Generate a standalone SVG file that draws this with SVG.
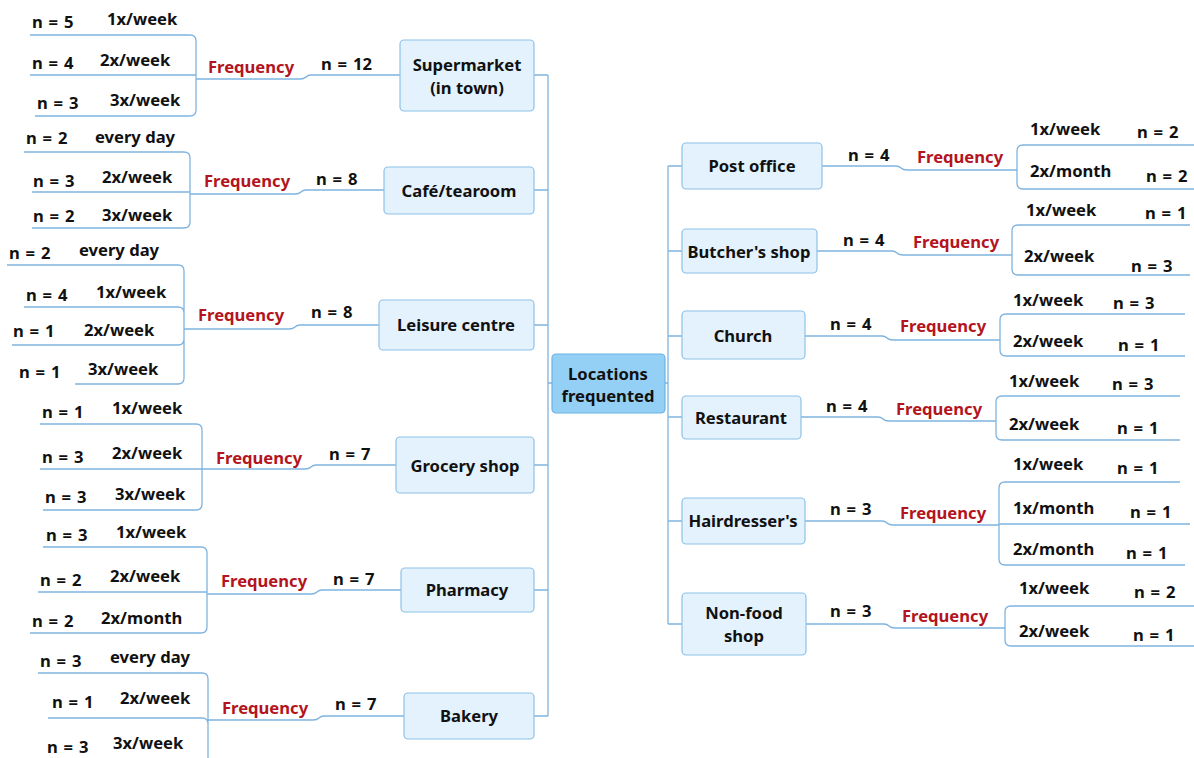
<svg xmlns="http://www.w3.org/2000/svg" width="1194" height="758" viewBox="0 0 1194 758">
<style>
text{font-family:"Noto Sans","Open Sans","DejaVu Sans",sans-serif;font-weight:bold;font-size:16.6px;fill:#111}
.f{fill:#b3141d}
.c{text-anchor:middle;font-size:16.6px}
.n{word-spacing:1.5px}
.box{fill:#e3f2fd;stroke:#8ec2e8;stroke-width:1.2}
.root{fill:#94d0f6;stroke:#6db3e4;stroke-width:1.2}
.ln{fill:none;stroke:#7fb4e0;stroke-width:1.3}
</style>
<rect width="1194" height="758" fill="#fff"/>
<g id="connectors" class="ln">
<path d="M548,75 V716 M548,383 H552 M668,166 V624 M665,383 H668"/>
<path d="M534,75 H548 M534,190 H548 M534,325 H548 M534,465 H548 M534,590 H548 M534,716 H548"/>
<path d="M668,166 H682 M668,251 H682 M668,336 H682 M668,417 H682 M668,521 H682 M668,624 H682"/>
<path d="M400,75 H311 Q308,75 306,77 Q304,79 300,79 H196"/>
<path d="M384,190 H306 Q303,190 301,192 Q299,194 295,194 H190"/>
<path d="M379,325 H300 Q297,325 295,327 Q293,329 289,329 H184"/>
<path d="M396,465 H316 Q313,465 311,467 Q309,469 305,469 H202"/>
<path d="M401,590 H322 Q319,590 317,592 Q315,594 311,594 H207"/>
<path d="M404,716 H324 Q321,716 319,718 Q317,720 313,720 H208"/>
<path d="M30,35 H190 Q196,35 196,41 V110 Q196,116 190,116 H35 M30,75 H196"/>
<path d="M24,152 H184 Q190,152 190,158 V222 Q190,228 184,228 H32 M32,192 H190"/>
<path d="M7,265 H178 Q184,265 184,271 V378 Q184,384 178,384 H75 M24,307 H178 Q184,307 184,313 M12,345 H178 Q184,345 184,339"/>
<path d="M40,424 H196 Q202,424 202,430 V504 Q202,510 196,510 H43 M40,469 H202"/>
<path d="M43,547 H201 Q207,547 207,553 V627 Q207,633 201,633 H30 M38,592 H207"/>
<path d="M38,673 H202 Q208,673 208,679 V758 M48,718 H202 Q208,718 208,724"/>
<path d="M822,166 H896 Q899,166 901,168 Q903,170 907,170 H1017"/>
<path d="M817,251 H892 Q895,251 897,253 Q899,255 903,255 H1012"/>
<path d="M805,336 H882 Q885,336 887,338 Q889,340 893,340 H1000"/>
<path d="M801,417 H878 Q881,417 883,419 Q885,421 889,421 H996"/>
<path d="M805,521 H882 Q885,521 887,523 Q889,525 893,525 H999"/>
<path d="M806,624 H884 Q887,624 889,626 Q891,628 895,628 H1005"/>
<path d="M1194,145 H1023 Q1017,145 1017,151 V183 Q1017,189 1023,189 H1194"/>
<path d="M1190,225 H1018 Q1012,225 1012,231 V269 Q1012,275 1018,275 H1190"/>
<path d="M1185,314 H1006 Q1000,314 1000,320 V350 Q1000,356 1006,356 H1185"/>
<path d="M1180,396 H1002 Q996,396 996,402 V434 Q996,440 1002,440 H1180"/>
<path d="M1180,482 H1005 Q999,482 999,488 V559 Q999,565 1005,565 H1185 M999,524 H1190"/>
<path d="M1194,606 H1011 Q1005,606 1005,612 V640 Q1005,646 1011,646 H1194"/>
</g>
<g id="root"><rect class="root" x="552" y="354" width="113" height="59" rx="4"/><text class="c" x="608" y="380">Locations</text><text class="c" x="608" y="402">frequented</text></g>

<g id="supermarket"><rect class="box" x="400" y="40" width="134" height="71" rx="4"/><text class="c" x="467" y="71">Supermarket</text><text class="c" x="467" y="94">(in town)</text>
<text class="n" x="321" y="70">n = 12</text><text class="f" x="208" y="73">Frequency</text>
<text class="n" x="32" y="28">n = 5</text><text x="107" y="25">1x/week</text>
<text class="n" x="32" y="69">n = 4</text><text x="100" y="66">2x/week</text>
<text class="n" x="37" y="109">n = 3</text><text x="110" y="106">3x/week</text></g>

<g id="cafe"><rect class="box" x="384" y="167" width="150" height="47" rx="4"/><text class="c" x="459" y="197">Café/tearoom</text>
<text class="n" x="316" y="185">n = 8</text><text class="f" x="204" y="187">Frequency</text>
<text class="n" x="26" y="144">n = 2</text><text x="95" y="143">every day</text>
<text class="n" x="33" y="187">n = 3</text><text x="102" y="183">2x/week</text>
<text class="n" x="33" y="222">n = 2</text><text x="102" y="221">3x/week</text></g>

<g id="leisure"><rect class="box" x="379" y="300" width="155" height="50" rx="4"/><text class="c" x="456" y="331">Leisure centre</text>
<text class="n" x="311" y="318">n = 8</text><text class="f" x="198" y="321">Frequency</text>
<text class="n" x="9" y="259">n = 2</text><text x="79" y="256">every day</text>
<text class="n" x="26" y="301">n = 4</text><text x="96" y="298">1x/week</text>
<text class="n" x="13" y="337">n = 1</text><text x="84" y="336">2x/week</text>
<text class="n" x="19" y="378">n = 1</text><text x="88" y="375">3x/week</text></g>

<g id="grocery"><rect class="box" x="396" y="437" width="138" height="56" rx="4"/><text class="c" x="465" y="472">Grocery shop</text>
<text class="n" x="329" y="460">n = 7</text><text class="f" x="216" y="464">Frequency</text>
<text class="n" x="42" y="418">n = 1</text><text x="112" y="414">1x/week</text>
<text class="n" x="42" y="463">n = 3</text><text x="112" y="459">2x/week</text>
<text class="n" x="45" y="503">n = 3</text><text x="115" y="500">3x/week</text></g>

<g id="pharmacy"><rect class="box" x="401" y="568" width="133" height="44" rx="4"/><text class="c" x="467" y="596">Pharmacy</text>
<text class="n" x="333" y="585">n = 7</text><text class="f" x="221" y="587">Frequency</text>
<text class="n" x="46" y="541">n = 3</text><text x="116" y="538">1x/week</text>
<text class="n" x="40" y="586">n = 2</text><text x="110" y="582">2x/week</text>
<text class="n" x="32" y="627">n = 2</text><text x="101" y="624">2x/month</text></g>

<g id="bakery"><rect class="box" x="404" y="693" width="130" height="46" rx="4"/><text class="c" x="469" y="722">Bakery</text>
<text class="n" x="335" y="710">n = 7</text><text class="f" x="222" y="714">Frequency</text>
<text class="n" x="40" y="667">n = 3</text><text x="110" y="663">every day</text>
<text class="n" x="52" y="708">n = 1</text><text x="120" y="704">2x/week</text>
<text class="n" x="47" y="753">n = 3</text><text x="113" y="749">3x/week</text></g>

<g id="postoffice"><rect class="box" x="682" y="143" width="140" height="46" rx="4"/><text class="c" x="752" y="172">Post office</text>
<text class="n" x="848" y="161">n = 4</text><text class="f" x="917" y="163">Frequency</text>
<text x="1030" y="135">1x/week</text><text class="n" x="1137" y="138">n = 2</text>
<text x="1030" y="177">2x/month</text><text class="n" x="1146" y="182">n = 2</text></g>

<g id="butcher"><rect class="box" x="682" y="229" width="135" height="44" rx="4"/><text class="c" x="749" y="258">Butcher's shop</text>
<text class="n" x="843" y="246">n = 4</text><text class="f" x="913" y="248">Frequency</text>
<text x="1026" y="216">1x/week</text><text class="n" x="1145" y="219">n = 1</text>
<text x="1024" y="262">2x/week</text><text class="n" x="1131" y="272">n = 3</text></g>

<g id="church"><rect class="box" x="682" y="311" width="123" height="48" rx="4"/><text class="c" x="743" y="342">Church</text>
<text class="n" x="830" y="330">n = 4</text><text class="f" x="900" y="332">Frequency</text>
<text x="1013" y="306">1x/week</text><text class="n" x="1113" y="309">n = 3</text>
<text x="1013" y="347">2x/week</text><text class="n" x="1118" y="351">n = 1</text></g>

<g id="restaurant"><rect class="box" x="682" y="396" width="119" height="43" rx="4"/><text class="c" x="741" y="424">Restaurant</text>
<text class="n" x="826" y="412">n = 4</text><text class="f" x="896" y="415">Frequency</text>
<text x="1009" y="387">1x/week</text><text class="n" x="1112" y="390">n = 3</text>
<text x="1009" y="430">2x/week</text><text class="n" x="1117" y="434">n = 1</text></g>

<g id="hairdresser"><rect class="box" x="682" y="498" width="123" height="46" rx="4"/><text class="c" x="743" y="527">Hairdresser's</text>
<text class="n" x="830" y="515">n = 3</text><text class="f" x="900" y="519">Frequency</text>
<text x="1013" y="470">1x/week</text><text class="n" x="1117" y="474">n = 1</text>
<text x="1013" y="514">1x/month</text><text class="n" x="1130" y="518">n = 1</text>
<text x="1013" y="555">2x/month</text><text class="n" x="1126" y="559">n = 1</text></g>

<g id="nonfood"><rect class="box" x="682" y="593" width="124" height="62" rx="4"/><text class="c" x="744" y="619">Non-food</text><text class="c" x="744" y="642">shop</text>
<text class="n" x="830" y="617">n = 3</text><text class="f" x="902" y="622">Frequency</text>
<text x="1019" y="594">1x/week</text><text class="n" x="1134" y="598">n = 2</text>
<text x="1019" y="637">2x/week</text><text class="n" x="1133" y="641">n = 1</text></g>
</svg>
